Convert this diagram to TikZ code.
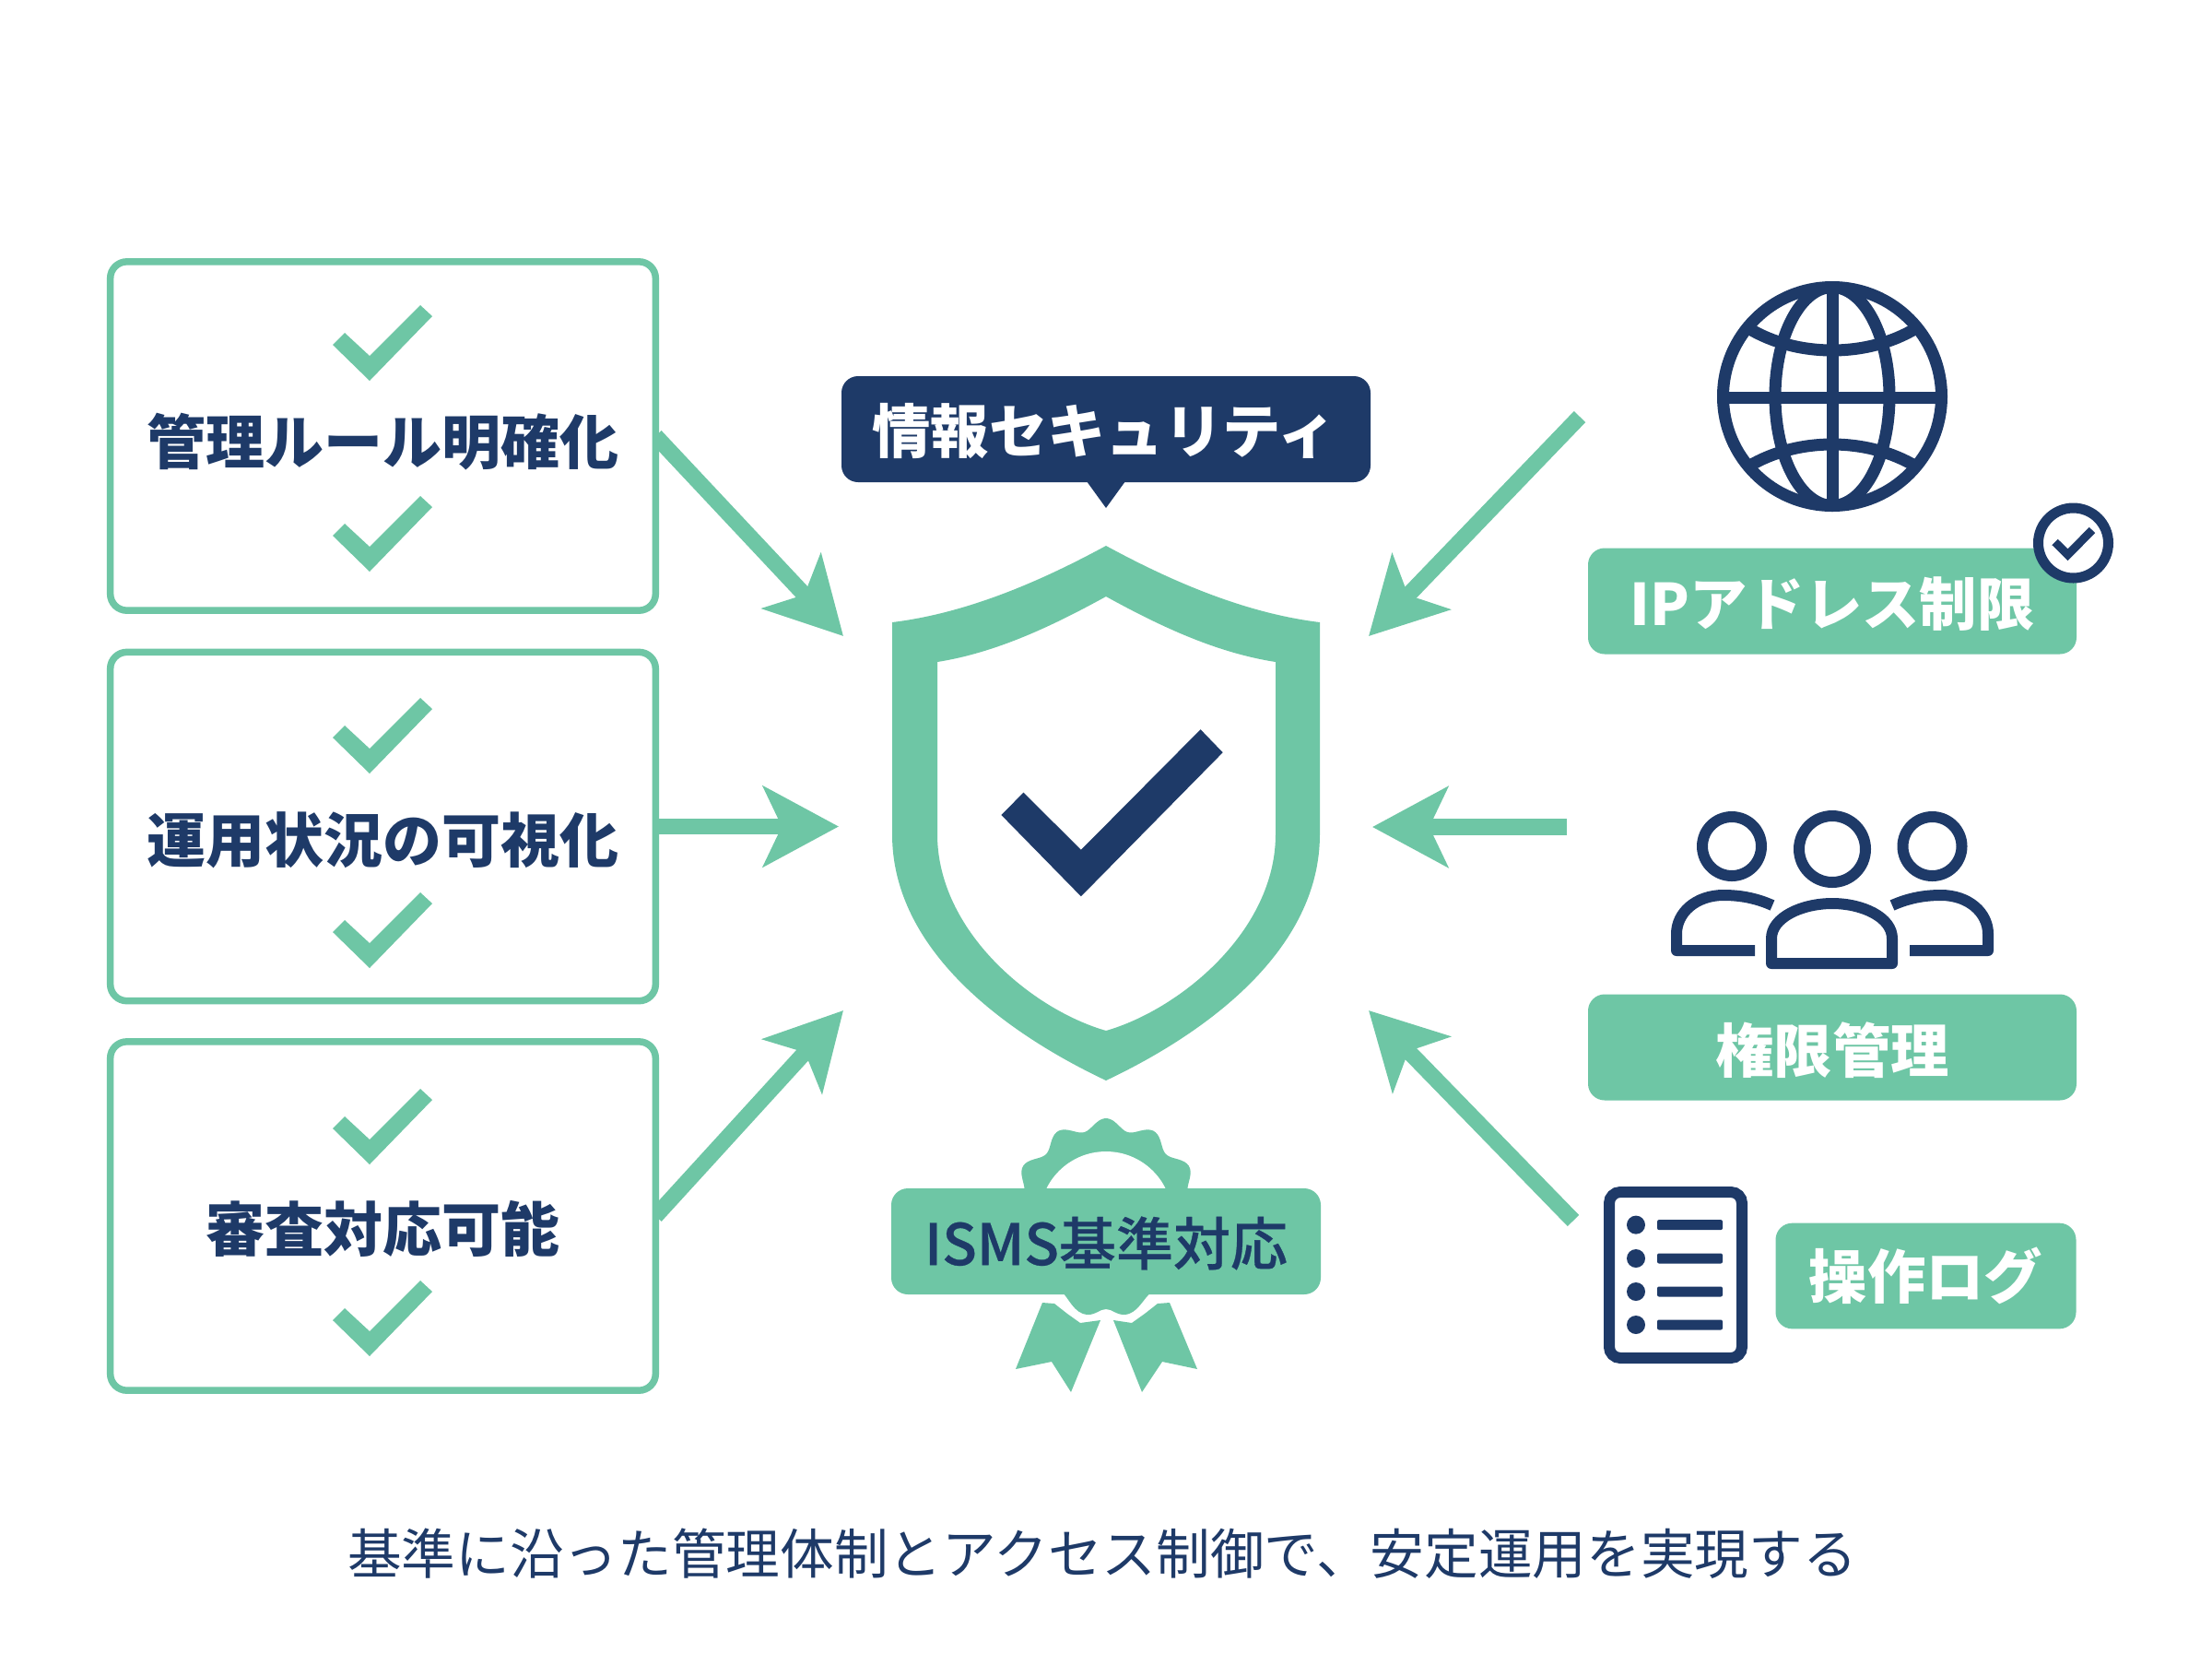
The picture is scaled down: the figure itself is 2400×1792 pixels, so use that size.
\documentclass[tikz,border=0pt]{standalone}
\usepackage{fontspec}
\newfontfamily\jp{Noto Sans CJK JP}
\newfontfamily\jpm[FakeBold=0.5]{Noto Sans CJK JP Medium}
\usetikzlibrary{arrows.meta}
\definecolor{mint}{HTML}{6EC6A5}
\definecolor{navy}{HTML}{1E3A68}
\pgfdeclarelayer{base}
\pgfdeclarelayer{under}
\pgfsetlayers{base,under,main}
\newcommand{\lowered}[2]{\raisebox{-#1}[\height][\depth]{#2}}
\tikzset{
  px/.style={x=0.3pt,y=-0.3pt},
  outlinebox/.style={draw=mint,line width=2.25pt,fill=white,rounded corners=5.4pt,inner sep=0pt,outer sep=0pt,
    minimum width=177.5pt,minimum height=113.5pt,text=navy,font=\jp\bfseries\fontsize{19.2pt}{22pt}\selectfont},
  pill/.style={fill=mint,rounded corners=5.4pt,inner sep=0pt,outer sep=0pt,text=white,font=\jp\bfseries\fontsize{19pt}{22pt}\selectfont},
  flow/.style={draw=mint,line width=5.2pt,-{Stealth[length=24.5pt,width=26pt,inset=6pt]}},
  navyline/.style={draw=navy,line width=3.6pt},
}
\newcommand{\tick}[2]{\fill[mint] (#1-40,#2-39) -- (#1-27,#2-52) -- (#1,#2-27) -- (#1+55,#2-82) -- (#1+68,#2-70) -- (#1,#2) -- cycle;}
\begin{document}
\begin{tikzpicture}[px]
\useasboundingbox (0,0) rectangle (2400,1792);
\begin{pgfonlayer}{base}
\fill[white] (0,0) rectangle (2400,1792);
\end{pgfonlayer}

% left boxes
\node[outlinebox] (b1) at (415.5,473) {\lowered{1.8pt}{管理ルール明確化}};
\node[outlinebox] (b2) at (415.5,896.5) {\lowered{4.5pt}{運用状況の可視化}};
\node[outlinebox] (b3) at (415.5,1319) {\lowered{4.2pt}{審査対応可能}};
\tick{401}{413}\tick{401}{620}
\tick{401}{839}\tick{401}{1050}
\tick{401}{1263}\tick{401}{1471}

% arrow ends
\coordinate (t1) at (915,690);
\coordinate (t2) at (910,896.5);
\coordinate (t3) at (915,1096);
\coordinate (t4) at (1485,690);
\coordinate (t5) at (1489,897);
\coordinate (t6) at (1485,1096);
\coordinate (s4) at (1714,452);
\coordinate (s5) at (1700,897);
\coordinate (s6) at (1707,1324);
\begin{pgfonlayer}{under}
\draw[flow] (b1.east) -- (t1);
\draw[flow] (b2.east) -- (t2);
\draw[flow] (b3.east) -- (t3);
\draw[flow] (s4) -- (t4);
\draw[flow] (s5) -- (t5);
\draw[flow] (s6) -- (t6);
\end{pgfonlayer}

% title label
\fill[navy,rounded corners=5.4pt] (913,408) rectangle (1487,523);
\fill[navy] (1179,522) -- (1221,522) -- (1200,551) -- cycle;
\node[text=white,font=\jp\bfseries\fontsize{19pt}{22pt}\selectfont,inner sep=0pt] (title) at (1198,467) {情報セキュリティ};

% shield
\fill[mint,even odd rule,line join=round]
  (1200,592) .. controls (1130,630) and (1050,665) .. (968,675)
  -- (968,905) .. controls (968,1030) and (1090,1120) .. (1200,1172)
  .. controls (1310,1120) and (1432,1030) .. (1432,905)
  -- (1432,675) .. controls (1350,665) and (1270,630) .. (1200,592) -- cycle
  (1200,647) .. controls (1140,680) and (1080,708) .. (1017,718)
  -- (1017,905) .. controls (1017,1010) and (1120,1095) .. (1200,1118)
  .. controls (1280,1095) and (1384,1010) .. (1384,905)
  -- (1384,718) .. controls (1320,708) and (1260,680) .. (1200,647) -- cycle;
\fill[navy] (1086.4,884) -- (1110.5,859.6) -- (1172.9,921.8) -- (1302.6,791.2) -- (1326.7,816.2) -- (1172.9,972.3) -- cycle;

% ISMS badge
\fill[mint] (1131,1413) -- (1144,1414) -- (1158,1425) -- (1172,1435) -- (1194,1432) -- (1162,1510) -- (1141,1477) -- (1102,1485) -- cycle;
\fill[mint] (1269,1413) -- (1256,1414) -- (1242,1425) -- (1228,1435) -- (1208,1432) -- (1239,1510) -- (1261,1477) -- (1299,1485) -- cycle;
\fill[mint] (1151,1400) .. controls (1160,1408) and (1165,1425) .. (1180,1426) .. controls (1190,1426) and (1193,1420) .. (1200,1420) .. controls (1207,1420) and (1210,1426) .. (1220,1426) .. controls (1235,1425) and (1240,1408) .. (1251,1400) -- cycle;
\fill[mint] plot[smooth,samples=120,domain=-10:190] ({1200+(98+6*cos(12*\x))*cos(\x)},{1317-(98+6*cos(12*\x))*sin(\x)}) -- cycle;
\fill[white] (1200,1321) circle[radius=72];
\node[pill,text=navy,minimum width=139.8pt,minimum height=34.5pt,font=\jpm\fontsize{18.6pt}{22pt}\selectfont] (isms) at (1200,1346.5) {\lowered{0.6pt}{ISMS基準対応}};

% globe
\begin{scope}[navyline,line width=3.9pt]
\draw (1988,430) circle[radius=118.5];
\draw (1988,312) -- (1988,548);
\draw (1870,431) -- (2106,431);
\draw (1988,430) ellipse[x radius=62,y radius=118.5];
\draw (1897,356) .. controls (1950,388) and (2026,388) .. (2079,356);
\draw (1897,506) .. controls (1950,474) and (2026,474) .. (2079,506);
\end{scope}

% IP label
\node[pill,minimum width=159pt,minimum height=34.5pt,font=\jp\bfseries\fontsize{18.7pt}{22pt}\selectfont] (ip) at (1988,652) {\lowered{0.8pt}{IPアドレス制限}};
\draw[draw=navy,line width=3.3pt,fill=white] (2249.5,589) circle[radius=38];
\draw[navy,line width=2.7pt] (2229.6,588) -- (2243.5,601.7) -- (2270,575);

% people
\begin{scope}[navyline,line cap=butt,line join=round]
\draw (1879,918) circle[radius=32];
\draw (2096.5,918) circle[radius=32];
\draw (1988,921) circle[radius=36];
\draw (1923,982) .. controls (1905,974) and (1888,971) .. (1870,971) .. controls (1840,971) and (1819,990) .. (1819,1013) -- (1819,1031) -- (1904,1031);
\draw (2053,982) .. controls (2071,974) and (2088,971) .. (2106,971) .. controls (2136,971) and (2157,990) .. (2157,1013) -- (2157,1031) -- (2072,1031);
\draw (1922,1045) -- (1922,1018) .. controls (1922,995) and (1955,980) .. (1988,980) .. controls (2021,980) and (2053,995) .. (2053,1018) -- (2053,1045) -- cycle;
\end{scope}
\node[pill,minimum width=159pt,minimum height=34.5pt] (perm) at (1988,1136) {\lowered{0.8pt}{権限管理}};

% document
\draw[navyline,rounded corners=3.6pt] (1746,1293) rectangle (1890,1473);
\foreach \yy in {1328.6,1365,1401,1437}{
  \fill[navy] (1775,\yy) circle[radius=10];
  \fill[navy,rounded corners=0.6pt] (1798,\yy-5.5) rectangle (1869,\yy+5.5);
}
\node[pill,minimum width=97.8pt,minimum height=34.4pt] (log) at (2089.5,1384) {操作ログ};

% caption
\node[text=navy,font=\jp\fontsize{17.6pt}{22pt}\selectfont,inner sep=0pt] (cap) at (1196,1685) {基準に沿った管理体制とアクセス制御で、安定運用を実現する};
\end{tikzpicture}
\end{document}
